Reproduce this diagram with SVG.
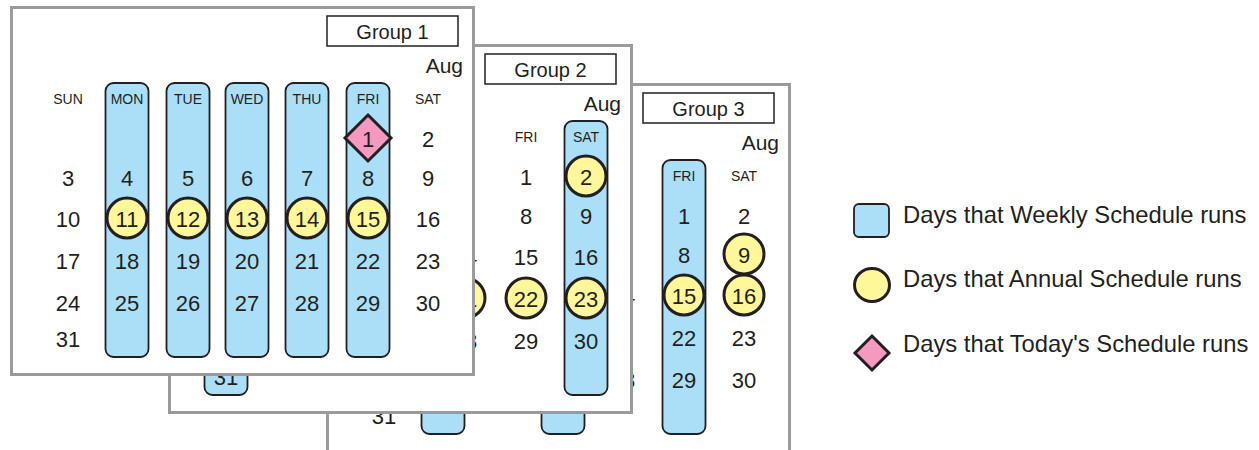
<svg xmlns="http://www.w3.org/2000/svg" width="1259" height="450" viewBox="0 0 1259 450">
<style>
text{font-family:"Liberation Sans",Arial,Helvetica,sans-serif;fill:#231f20}
.panel{fill:#fff;stroke:#9b9b9b;stroke-width:3}
.tag{fill:#fff;stroke:#231f20;stroke-width:1.5}
.tagt{font-size:20px;text-anchor:middle}
.aug{font-size:21px;text-anchor:end}
.hdr{font-size:14px;text-anchor:middle}
.num{font-size:22px;text-anchor:middle}
.col{fill:#abdff8;stroke:#231f20;stroke-width:1.8}
.ann{fill:#fff799;stroke:#231f20;stroke-width:3}
.today{fill:#f49ac1;stroke:#231f20;stroke-width:3;stroke-linejoin:miter}
.leg{font-size:23.8px}
</style>
<rect width="1259" height="450" fill="#fff"/>

<g id="group3" transform="translate(316,77)">
<rect class="panel" x="11.5" y="7.5" width="462" height="380"/>
<rect class="tag" x="327" y="16" width="131" height="30"/>
<text class="tagt" x="392.5" y="38.5">Group 3</text>
<text class="aug" x="463" y="73">Aug</text>
<rect class="col" x="105.5" y="83" width="43" height="274" rx="8"/>
<rect class="col" x="225.5" y="83" width="43" height="274" rx="8"/>
<rect class="col" x="346.5" y="83" width="43" height="274" rx="8"/>
<text class="hdr" x="368" y="104">FRI</text>
<text class="hdr" x="428" y="104">SAT</text>
<circle class="ann" cx="428" cy="177" r="20"/>
<circle class="ann" cx="368" cy="218" r="20"/>
<circle class="ann" cx="428" cy="218" r="20"/>
<text class="num" x="68" y="347">31</text>
<text class="num" x="307" y="227">14</text>
<text class="num" x="307" y="311">28</text>
<text class="num" x="368" y="147">1</text>
<text class="num" x="368" y="186">8</text>
<text class="num" x="368" y="227">15</text>
<text class="num" x="368" y="269">22</text>
<text class="num" x="368" y="311">29</text>
<text class="num" x="428" y="147">2</text>
<text class="num" x="428" y="186">9</text>
<text class="num" x="428" y="227">16</text>
<text class="num" x="428" y="269">23</text>
<text class="num" x="428" y="311">30</text>
</g>

<g id="group2" transform="translate(158,38)">
<rect class="panel" x="11.5" y="7.5" width="462" height="367"/>
<rect class="tag" x="327" y="16" width="131" height="30"/>
<text class="tagt" x="392.5" y="38.5">Group 2</text>
<text class="aug" x="463" y="73">Aug</text>
<rect class="col" x="46.5" y="83" width="43" height="274" rx="8"/>
<rect class="col" x="406.5" y="83" width="43" height="274" rx="8"/>
<text class="hdr" x="368" y="104">FRI</text>
<text class="hdr" x="428" y="104">SAT</text>
<circle class="ann" cx="428" cy="138" r="20"/>
<circle class="ann" cx="307" cy="260" r="20"/>
<circle class="ann" cx="368" cy="260" r="20"/>
<circle class="ann" cx="428" cy="260" r="20"/>
<text class="num" x="68" y="347">31</text>
<text class="num" x="307" y="227">14</text>
<text class="num" x="307" y="269">21</text>
<text class="num" x="307" y="311">28</text>
<text class="num" x="368" y="147">1</text>
<text class="num" x="368" y="186">8</text>
<text class="num" x="368" y="227">15</text>
<text class="num" x="368" y="269">22</text>
<text class="num" x="368" y="311">29</text>
<text class="num" x="428" y="147">2</text>
<text class="num" x="428" y="186">9</text>
<text class="num" x="428" y="227">16</text>
<text class="num" x="428" y="269">23</text>
<text class="num" x="428" y="311">30</text>
</g>

<g id="group1">
<rect class="panel" x="11.5" y="7.5" width="462" height="367"/>
<rect class="tag" x="327" y="16" width="131" height="30"/>
<text class="tagt" x="392.5" y="38.5">Group 1</text>
<text class="aug" x="463" y="73">Aug</text>
<rect class="col" x="105.5" y="83" width="43" height="274" rx="8"/>
<rect class="col" x="166.5" y="83" width="43" height="274" rx="8"/>
<rect class="col" x="225.5" y="83" width="43" height="274" rx="8"/>
<rect class="col" x="285.5" y="83" width="43" height="274" rx="8"/>
<rect class="col" x="346.5" y="83" width="43" height="274" rx="8"/>
<text class="hdr" x="68" y="104">SUN</text>
<text class="hdr" x="127" y="104">MON</text>
<text class="hdr" x="188" y="104">TUE</text>
<text class="hdr" x="247" y="104">WED</text>
<text class="hdr" x="307" y="104">THU</text>
<text class="hdr" x="368" y="104">FRI</text>
<text class="hdr" x="428" y="104">SAT</text>
<polygon class="today" points="368,115 391,138 368,161 345,138"/>
<circle class="ann" cx="127" cy="218" r="20"/>
<circle class="ann" cx="188" cy="218" r="20"/>
<circle class="ann" cx="247" cy="218" r="20"/>
<circle class="ann" cx="307" cy="218" r="20"/>
<circle class="ann" cx="368" cy="218" r="20"/>
<text class="num" x="368" y="147">1</text>
<text class="num" x="428" y="147">2</text>
<text class="num" x="68" y="186">3</text>
<text class="num" x="127" y="186">4</text>
<text class="num" x="188" y="186">5</text>
<text class="num" x="247" y="186">6</text>
<text class="num" x="307" y="186">7</text>
<text class="num" x="368" y="186">8</text>
<text class="num" x="428" y="186">9</text>
<text class="num" x="68" y="227">10</text>
<text class="num" x="127" y="227">11</text>
<text class="num" x="188" y="227">12</text>
<text class="num" x="247" y="227">13</text>
<text class="num" x="307" y="227">14</text>
<text class="num" x="368" y="227">15</text>
<text class="num" x="428" y="227">16</text>
<text class="num" x="68" y="269">17</text>
<text class="num" x="127" y="269">18</text>
<text class="num" x="188" y="269">19</text>
<text class="num" x="247" y="269">20</text>
<text class="num" x="307" y="269">21</text>
<text class="num" x="368" y="269">22</text>
<text class="num" x="428" y="269">23</text>
<text class="num" x="68" y="311">24</text>
<text class="num" x="127" y="311">25</text>
<text class="num" x="188" y="311">26</text>
<text class="num" x="247" y="311">27</text>
<text class="num" x="307" y="311">28</text>
<text class="num" x="368" y="311">29</text>
<text class="num" x="428" y="311">30</text>
<text class="num" x="68" y="347">31</text>
</g>

<g id="connectors"/>

<g id="legend">
<g id="legend-weekly">
<rect class="col" x="854" y="204" width="35" height="33" rx="5"/>
<text class="leg" x="903" y="223">Days that Weekly Schedule runs</text>
</g>
<g id="legend-annual">
<ellipse class="ann" cx="872" cy="285" rx="17.5" ry="16.5"/>
<text class="leg" x="903" y="287">Days that Annual Schedule runs</text>
</g>
<g id="legend-today">
<polygon class="today" points="872,336 889,353 872,370 855,353"/>
<text class="leg" x="903" y="352">Days that Today's Schedule runs</text>
</g>
</g>
</svg>
